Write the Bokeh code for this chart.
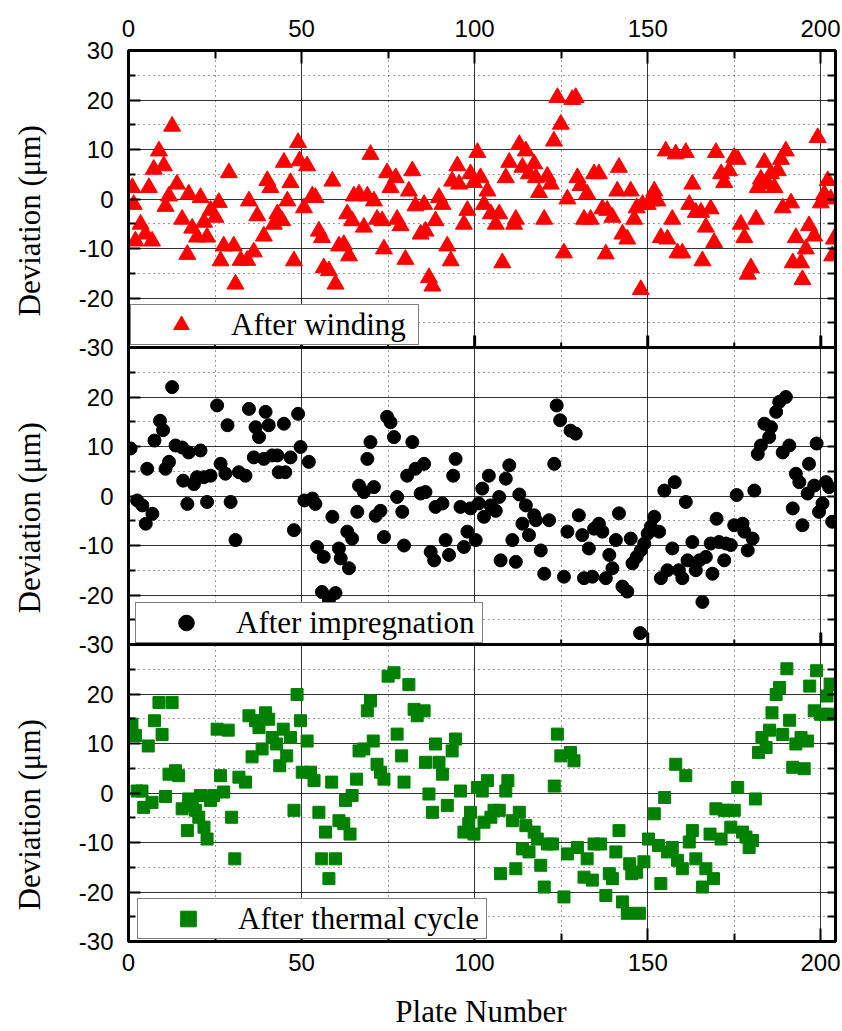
import math
from bokeh.plotting import figure
from bokeh.layouts import row, column
from bokeh.models import Range1d, LinearAxis, FixedTicker, Span, Legend, LegendItem, Grid
from bokeh.core.properties import value
from bokeh.embed import file_html
from bokeh.resources import INLINE

# ---------------- data ----------------
winding_x = [1.1, 1.5, 2.0, 3.5, 4.9, 5.9, 6.8, 7.3, 8.8, 10.2, 10.7, 11.7, 12.6, 14.0, 15.5,
             17.0, 17.4, 18.4, 19.8, 20.8, 21.8, 22.7, 23.7, 25.1, 26.1, 26.6, 27.5, 29.0, 30.4, 30.9,
             32.4, 34.3, 34.8, 36.2, 37.2, 39.1, 40.1, 41.0, 42.0, 43.0, 44.4, 44.9, 45.9, 46.8, 47.8,
             49.0, 49.4, 50.7, 51.6, 53.1, 54.0, 55.0, 55.9, 56.4, 57.9, 58.9, 59.8, 60.8, 62.2, 63.7,
             63.2, 64.6, 65.1, 66.6, 68.0, 69.0, 69.9, 70.9, 71.8, 73.3, 73.8, 74.7, 75.7, 77.2, 77.6,
             78.6, 80.0, 81.0, 82.0, 82.9, 84.4,
             85.4, 85.8, 86.8, 87.8, 88.7, 89.7, 90.7, 92.1, 93.1, 93.5, 95.0, 95.5, 96.9, 97.9, 98.8,
             99.8, 100.8, 101.7, 102.7, 103.7, 104.7, 106.1, 107.1, 108.0, 109.0, 110.0, 111.4, 111.9, 112.9, 113.8,
             114.8, 115.7, 117.2, 117.7, 118.6, 120.1, 121.0, 122.0, 122.9, 123.9, 124.9, 125.8, 126.8, 128.2, 129.2,
             129.7, 130.6, 131.6, 132.5, 133.5, 134.5, 135.9, 136.9, 137.9, 138.3, 139.8, 141.2, 141.7, 142.7, 144.1,
             145.1, 146.1, 146.8, 148.0, 148.5, 150.0, 150.9, 151.9, 152.8, 153.8, 155.2, 155.7, 157.1, 158.1, 158.6,
             160.0, 161.0, 162.0, 162.9, 163.9, 165.4, 165.8, 166.8, 168.2, 169.2, 169.7, 171.2, 172.1, 173.5, 175.0,
             176.0, 176.9, 177.9, 178.9, 179.8, 181.3, 181.8, 182.7, 183.7, 184.7, 185.6, 186.6, 187.6, 188.5, 189.0,
             189.9, 191.4, 191.9, 192.8, 194.3, 194.7, 195.7, 196.6, 198.1, 199.1, 200.0, 201.0, 202.0, 202.9, 203.3,
             203.8]
winding_y = [2.3, -1.1, -8.5, -5.1, -7.1, 2.3, -8.5, 6.0, 9.7, 6.7, -1.5, 0.6, 14.7, 3.0, -4.1,
             -11.2, 1.0, -5.9, -7.7, 0.3, -4.7, -7.7, -2.3, -3.7, -0.7, -12.5, -9.5, 5.3, -9.5, -17.2,
             -12.4, -12.4, -0.4, -10.7, -3.4, -7.5, 3.7, 2.3, -5.1, -3.0, -4.4, 7.4, -0.4, 3.3, -12.5,
             11.4, 7.7, -1.8, 6.7, 0.6, 0.3, -6.5, -7.8, -13.9, -14.5, 3.6, -17.2, -9.5, -9.2, -11.5,
             -3.0, -4.4, 0.6, 1.0, -5.7, 0.6, 9.0, -0.4, -4.1, -4.4, -10.1, 5.3, 2.3, 4.3, -4.1,
             -5.4, -12.2, 1.6, 5.7, -1.4, -7.1,
             -1.1, -6.5, -15.9, -17.6, -4.4, 0.3, -1.1, -9.5, -12.5, 3.6, 6.7, 3.0, -5.1, -2.3, 5.1,
             3.3, 9.4, 4.3, -1.1, 1.6, -3.0, -5.1, -3.0, -12.9, 4.3, 7.4, -5.1, -4.1, 11.0, 6.4,
             9.7, 5.1, 7.1, 4.3, 1.3, -4.1, 4.6, 3.0, 11.7, 20.5, 15.1, -10.9, 0.0, 20.1, 20.5,
             4.3, 2.7, -4.1, 1.0, -4.1, 5.1, 5.1, -2.0, -11.1, -2.3, -3.7, 1.6, 6.4, -7.1, -8.1,
             1.6, -4.1, -1.8, -18.3, -1.1, -1.1, -0.4, 1.6, -0.4, -7.8, 9.7, -8.1, -4.1, 9.1, -10.9,
             -10.9, 9.4, -1.1, 3.0, -2.7, -2.7, -12.5, -5.7, -2.0, -8.8, 9.4, 5.1, 3.3, 5.7, 8.4,
             8.0, -5.1, -7.8, -15.2, -13.9, -4.1, 2.3, 4.0, 7.4, 3.0, 5.1, 2.3, 5.7, 8.0, -1.8,
             9.7, -0.8, -12.9, -7.8, -12.9, -16.3, -10.1, -5.4, -7.5, 12.4, -0.8, 1.0, 3.7, 0.0, -11.5,
             -8.1]

impreg_x = [0.6, 2.5, 4.0, 5.0, 5.4, 6.9, 7.5, 9.1, 10.0, 10.7, 11.7, 12.6, 13.6, 15.5, 15.8,
            17.0, 17.4, 18.9, 19.8, 20.8, 21.8, 22.7, 23.7, 25.6, 26.6, 28.0, 28.6, 29.5, 30.9, 31.9,
            33.8, 34.8, 36.2, 36.7, 37.7, 39.1, 39.6, 40.5, 41.5, 43.0, 43.4, 44.9, 45.3, 46.8, 47.8,
            49.0, 49.7, 50.8, 52.1, 53.1, 54.0, 54.5, 56.4, 55.9, 57.9, 58.9, 59.8, 60.8, 61.3, 63.2,
            63.7, 64.6, 66.1, 66.6, 68.0, 69.0, 69.9, 70.9, 71.4, 72.8, 73.8, 74.7, 75.7, 76.7, 77.6,
            79.1, 79.6, 80.5, 82.0, 82.9, 84.4,
            85.4, 85.8, 87.3, 88.3, 88.7, 90.7, 91.6, 92.6, 93.8, 94.5, 95.9, 96.9, 97.9, 98.8, 100.3,
            101.2, 102.2, 102.7, 104.1, 104.6, 106.1, 107.1, 107.5, 109.0, 110.0, 110.9, 111.9, 112.9, 113.8, 114.8,
            115.7, 117.2, 117.7, 119.1, 120.1, 121.5, 123.0, 123.7, 124.7, 125.8, 126.8, 127.7, 129.2, 130.1, 131.1,
            131.6, 133.0, 134.0, 134.5, 135.9, 136.9, 137.9, 138.9, 139.8, 140.8, 141.7, 142.7, 144.1, 145.1, 145.6,
            146.8, 147.8, 148.0, 149.0, 150.0, 150.9, 151.9, 153.3, 153.8, 154.8, 155.7, 157.1, 157.8, 159.0, 160.0,
            161.0, 161.5, 162.9, 163.9, 164.9, 165.8, 166.8, 168.2, 168.7, 169.9, 170.6, 172.1, 172.6, 174.0, 175.0,
            175.7, 177.4, 177.9, 178.9, 180.3, 180.8, 181.8, 182.7, 183.7, 185.1, 185.6, 187.1, 188.0, 189.0, 189.9,
            190.9, 191.9, 192.8, 193.8, 194.7, 196.2, 196.6, 198.1, 198.8, 199.5, 200.5, 201.5, 202.4, 203.3]
impreg_y = [9.6, -0.9, -1.9, -5.6, 5.5, -3.6, 11.2, 15.2, 13.3, 5.5, 6.9, 22.0, 10.2, 9.8, 3.1,
            -1.6, 8.8, 2.4, 3.8, 9.2, 3.8, -1.2, 4.1, 18.3, 6.5, 4.5, 14.3, -1.2, -8.9, 4.8,
            4.1, 17.6, 7.8, 13.9, 11.9, 7.5, 17.0, 14.3, 8.2, 8.2, 4.8, 14.6, 4.8, 7.8, -6.9,
            16.6, 9.9, -0.9, 6.9, -0.5, -1.6, -10.3, -12.3, -19.4, -21.0, -4.2, -19.6, -10.6, -12.6, -7.2,
            -14.6, -8.6, -3.2, 2.1, 0.8, 7.5, 10.9, 1.8, -4.0, -3.0, -8.3, 16.0, 14.9, 11.9, -0.2,
            -3.2, -10.0, 4.1, 10.9, 5.5, 0.5,
            6.5, 0.8, -11.3, -13.0, -2.2, -1.5, -8.9, -11.9, 4.1, 7.5, -2.2, -10.3, -7.2, -2.5, -8.9,
            -1.5, 1.5, -4.2, 4.1, -1.9, -3.0, -0.2, -13.0, 3.5, 6.2, -8.9, -13.3, 0.3, -5.6, -1.9,
            -7.9, -3.9, -4.9, -11.0, -15.7, -4.9, 6.5, 18.3, 15.3, -16.3, -7.2, 13.2, 12.6, -3.9, -7.9,
            -16.6, -10.6, -16.3, -6.6, -5.6, -7.2, -16.6, -11.9, -14.6, -8.9, -3.5, -18.3, -19.3, -8.6, -13.6,
            -12.3, -27.7, -11.0, -9.6, -7.6, -6.2, -4.2, -7.2, -16.6, 1.1, -15.0, -10.6, 2.8, -15.0, -16.6,
            -1.2, -13.0, -9.3, -15.0, -13.0, -21.4, -12.3, -9.6, -15.7, -4.6, -9.3, -13.0, -9.6, -9.9, -5.9,
            0.2, -5.6, -7.2, -11.0, -8.6, 1.1, 8.5, 10.2, 14.6, 11.9, 13.9, 17.0, 19.0, 8.8, 20.0,
            10.2, -2.5, 4.5, 2.8, -5.9, 0.5, 6.5, 2.1, 10.6, -3.2, -1.5, 2.8, 1.8, -5.2]

thermal_x = [1.0, 2.0, 2.5, 3.9, 4.4, 5.7, 6.8, 7.5, 8.8, 9.7, 10.7, 11.7, 12.6, 13.6, 14.5,
             15.5, 17.0, 17.4, 18.4, 19.4, 20.3, 20.8, 21.8, 22.7, 23.7, 24.6, 25.6, 26.6, 27.5, 28.8,
             29.8, 30.7, 31.9, 33.8, 34.8, 35.7, 36.7, 37.7, 38.6, 39.6, 40.5, 41.5, 42.8, 43.7, 44.7,
             45.7, 46.8, 47.8, 48.7, 49.7, 50.2, 51.6, 52.6, 53.6, 55.0, 55.8, 56.9, 57.9, 58.7, 59.8,
             60.8, 62.2, 62.7, 64.0, 64.6, 65.9, 66.6, 68.0, 69.0, 69.9, 70.7, 71.8, 72.8, 73.8, 75.0,
             76.7, 77.6, 78.9, 79.6, 81.0, 82.5, 83.4,
             85.4, 85.8, 86.8, 87.8, 88.7, 89.7, 90.7, 92.1, 93.5, 94.5, 95.9, 96.9, 98.3, 98.8, 99.8,
             100.8, 102.2, 102.7, 103.7, 104.7, 105.6, 107.1, 107.5, 109.0, 109.6, 110.9, 111.9, 112.9, 113.8, 114.8,
             115.7, 117.2, 118.1, 119.1, 120.1, 121.0, 122.5, 123.0, 123.9, 124.9, 125.8, 126.8, 127.7, 128.7, 129.7,
             131.6, 132.5, 134.0, 134.5, 136.4, 137.9, 138.9, 139.8, 140.8, 141.7, 142.7, 144.1, 144.8, 145.4, 146.8,
             147.6, 148.9, 150.2, 151.9, 153.1, 153.8, 154.9, 155.7, 157.1, 158.1, 158.6, 160.0, 161.0, 162.0, 162.9,
             163.9, 165.8, 166.8, 168.0, 169.0, 169.7, 171.2, 172.1, 173.1, 174.0, 175.0, 176.0, 177.4, 178.4, 179.3,
             180.3, 181.1, 182.0, 183.0, 184.2, 185.2, 185.9, 187.1, 188.1, 189.0, 190.2, 191.0, 191.9, 192.8, 194.3,
             195.2, 196.2, 196.8, 198.1, 198.8, 199.9, 201.3, 201.8, 202.7, 203.2]
thermal_y = [13.9, 11.6, 0.4, 0.4, -2.9, 9.5, -1.9, 14.6, 18.3, 11.8, -0.7, 3.8, 18.3, 4.5, 3.5,
             -3.2, -7.6, -1.2, -2.5, -3.5, -4.9, -0.5, -6.9, -9.3, -1.5, -0.5, 12.9, 3.5, 0.2, 12.7,
             -4.9, -13.3, 3.2, 2.2, 15.6, 7.3, 14.6, 13.2, 8.9, 16.2, 14.9, 11.2, 9.9, 5.5, 12.9,
             7.5, 11.2, -3.5, 19.9, 14.6, 4.2, 10.5, 4.2, 2.5, -3.9, -13.3, -7.9, -17.3, 2.2, -13.3,
             -5.6, -6.2, -1.5, -8.3, -0.5, 2.8, 8.5, 8.9, 16.6, 18.6, 10.5, 5.8, 4.2, 2.8, 23.6,
             24.3, 11.9, 7.5, 2.2, 21.9, 16.9, 15.6,
             16.6, 6.2, -0.2, -3.9, 9.9, 6.2, 3.8, -2.5, 8.5, 10.9, 0.4, -7.9, -6.2, -3.9, -8.3,
             1.1, 0.4, -5.9, 2.5, -4.9, -3.5, -3.5, -16.3, 0.4, 2.5, -5.6, -15.3, -3.9, -11.3, -6.6,
             -11.9, -7.9, -9.3, -14.6, -19.0, -10.3, -10.3, 1.4, 11.9, 7.5, -21.0, -12.3, 8.2, 6.5, -11.0,
             -17.0, -13.3, -17.6, -10.3, -10.3, -20.7, -16.3, -17.3, -11.9, -7.6, -22.0, -24.3, -14.3, -16.3, -16.0,
             -24.3, -13.9, -9.3, -4.2, -10.6, -18.3, -0.9, -11.9, -11.0, 5.8, -13.6, -15.3, 3.5, -9.9, -7.6,
             -13.3, -19.0, -15.3, -8.3, -17.3, -3.2, -9.3, -3.5, -3.5, -6.9, -3.5, 1.1, -7.9, -8.9, -11.0,
             -9.6, -1.2, 8.2, 11.2, 9.2, 12.7, 16.2, 19.9, 21.3, 11.8, 25.1, 14.7, 5.2, 9.9, 11.2,
             4.9, 10.5, 21.6, 16.6, 24.7, 15.9, 15.9, 19.6, 22.0, 15.9]

series_labels = ["After winding", "After impregnation", "After thermal cycle"]
y_title = "Deviation (\u03bcm)"
x_title = "Plate Number"
x_ticks = [0, 50, 100, 150, 200]
x_minor_ticks = [25, 75, 125, 175]
# the three panels share one frame: positions -90..90, labels per panel
y_positions = list(range(-90, 91, 10))
y_tick_labels = ["-30", "-20", "-10", "0", "10", "20",
                 "-30", "-20", "-10", "0", "10", "20",
                 "-30", "-20", "-10", "0", "10", "20", "30"]
panel_offsets = [60, 0, -60]      # where each panel's zero sits on the shared frame
boundaries = [30, -30]

SANS = "Liberation Sans"
SERIF = "Liberation Serif"
TOP_B, BOT_B = 50, 40
FRAME_H = 891
H = TOP_B + FRAME_H + BOT_B
LABEL_W = 58
MAIN_W = 782
STRIP_H = 1031 - H

shared_y = Range1d(-90, 90)

p = figure(width=MAIN_W, height=H, output_backend="svg", toolbar_location=None,
           x_range=Range1d(0, 204.25), y_range=shared_y,
           x_axis_location=None, y_axis_location=None,
           min_border_left=128 - LABEL_W, min_border_right=5,
           min_border_top=TOP_B, min_border_bottom=BOT_B)
p.grid.visible = False
p.extra_y_ranges = {"top": Range1d(-150, 30), "bot": Range1d(-30, 150)}
p.outline_line_color = "black"
p.outline_line_width = 3
p.background_fill_color = "white"
p.border_fill_color = "white"

xticker = FixedTicker(ticks=x_ticks, minor_ticks=x_minor_ticks)
yticker = FixedTicker(ticks=y_positions, minor_ticks=[v + 5 for v in y_positions[:-1]])

def style_axis(ax, tick_in, minor_in, show_labels=True, standoff=14):
    ax.axis_line_color = "black"
    ax.axis_line_width = 3
    ax.major_tick_in = tick_in
    ax.major_tick_out = 0
    ax.minor_tick_in = minor_in
    ax.minor_tick_out = 0
    ax.major_tick_line_width = 2
    ax.minor_tick_line_width = 2
    ax.major_tick_line_color = "black"
    ax.minor_tick_line_color = "black"
    ax.major_label_text_font = SANS
    ax.major_label_standoff = standoff
    if show_labels:
        ax.major_label_text_font_size = "24px"
        ax.major_label_text_color = "black"
    else:
        ax.major_label_text_font_size = "1px"
        ax.major_label_text_color = None
        ax.major_label_standoff = 0

left = LinearAxis(ticker=yticker,
                  major_label_overrides={pos: lab for pos, lab in zip(y_positions, y_tick_labels)})
style_axis(left, 12, 7, True, 15)
p.add_layout(left, "left")

right = LinearAxis(ticker=yticker)
style_axis(right, 8, 8, False)
p.add_layout(right, "right")

top = LinearAxis(ticker=xticker)
style_axis(top, 13, 8, True, 14)
p.add_layout(top, "above")

bottom = LinearAxis(ticker=xticker)
style_axis(bottom, 13, 8, True, 12)
p.add_layout(bottom, "below")

for dim, tk in ((0, xticker), (1, yticker)):
    g = Grid(dimension=dim, ticker=tk)
    g.grid_line_color = "black"
    g.grid_line_width = 1
    g.grid_line_alpha = 0.8
    g.minor_grid_line_color = "black"
    g.minor_grid_line_width = 1
    g.minor_grid_line_alpha = 0.8
    g.minor_grid_line_dash = "1 4"
    p.add_layout(g)

for loc in boundaries:
    p.add_layout(Span(location=loc, dimension="width", line_color="black", line_width=3))

# inward ticks of each upper panel's bottom edge (at the panel boundaries)
px_per_unit = FRAME_H / 180.0
for loc in boundaries:
    p.segment(x0=x_ticks[1:], y0=[loc] * 4, x1=x_ticks[1:], y1=[loc + 12 / px_per_unit] * 4,
              line_color="black", line_width=3)
    p.segment(x0=x_minor_ticks, y0=[loc] * 4, x1=x_minor_ticks, y1=[loc + 5 / px_per_unit] * 4,
              line_color="black", line_width=2)

r1 = p.scatter(winding_x, winding_y, marker="triangle", size=17, fill_color="#ff0000",
               line_color="#ff0000", y_range_name="top")
r2 = p.scatter(impreg_x, impreg_y, marker="circle", size=13, fill_color="black",
               line_color="black")
r3 = p.scatter(thermal_x, thermal_y, marker="square", size=12, fill_color="#008000",
               line_color="#008000", y_range_name="bot")

def add_legend(label, rend, loc, lw):
    leg = Legend(items=[LegendItem(label=label, renderers=[rend])], location=loc)
    leg.margin = 0
    leg.padding = 0
    leg.spacing = 0
    leg.glyph_height = 39
    leg.glyph_width = 100
    leg.label_standoff = 0
    leg.label_width = lw
    leg.label_text_font = SERIF
    leg.label_text_font_size = "31px"
    leg.label_text_color = "black"
    leg.border_line_color = "black"
    leg.border_line_width = 1.5
    leg.background_fill_color = "white"
    leg.background_fill_alpha = 1.0
    p.add_layout(leg)

add_legend(series_labels[0], r1, (2, 596), 187)
add_legend(series_labels[1], r2, (7, 298), 246)
add_legend(series_labels[2], r3, (9, 2), 248)

# narrow strip on the left carrying the three y-axis titles
lab = figure(width=LABEL_W, height=H, output_backend="svg", toolbar_location=None,
             x_range=Range1d(0, 1), y_range=shared_y,
             x_axis_location=None, y_axis_location=None,
             min_border_left=0, min_border_right=0,
             min_border_top=TOP_B, min_border_bottom=BOT_B)
lab.grid.visible = False
lab.outline_line_color = None
lab.background_fill_color = "white"
lab.border_fill_color = "white"
lab.text(x=[0.5] * 3, y=[o - 4.4 for o in panel_offsets], text=[y_title] * 3,
         angle=math.pi / 2, text_align="center", text_baseline="middle",
         text_font=value(SERIF), text_font_size="31px", text_color="black")

# strip below carrying the x-axis title
strip = figure(width=LABEL_W + MAIN_W, height=STRIP_H, output_backend="svg", toolbar_location=None,
               x_range=Range1d(0, LABEL_W + MAIN_W), y_range=Range1d(0, STRIP_H),
               x_axis_location=None, y_axis_location=None,
               min_border_left=0, min_border_right=0, min_border_top=0, min_border_bottom=0)
strip.grid.visible = False
strip.outline_line_color = None
strip.background_fill_color = "white"
strip.border_fill_color = "white"
strip.text(x=[480.5], y=[STRIP_H - 30], text=[x_title], text_align="center", text_baseline="middle",
           text_font=value(SERIF), text_font_size="31px", text_color="black")

layout = column(row(lab, p), strip)
open("out.html", "w").write(file_html(layout, INLINE))
